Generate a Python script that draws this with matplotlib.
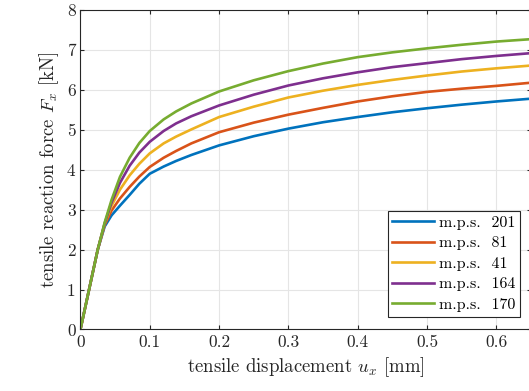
import matplotlib
matplotlib.use("Agg")
import matplotlib.pyplot as plt

plt.rcParams['font.family'] = ['cmr10', 'DejaVu Serif']
plt.rcParams['mathtext.fontset'] = 'cm'
plt.rcParams['axes.formatter.use_mathtext'] = True

u = [0, 0.025, 0.035, 0.045, 0.057, 0.071, 0.085, 0.1, 0.12, 0.138, 0.16, 0.2,
     0.25, 0.3, 0.35, 0.4, 0.45, 0.5, 0.55, 0.6, 0.65]
f_201 = [0, 2.0, 2.58, 2.86, 3.1, 3.37, 3.65, 3.9, 4.08, 4.22, 4.37, 4.61,
         4.84, 5.03, 5.19, 5.32, 5.44, 5.54, 5.63, 5.71, 5.78]
f_81 = [0, 2.0, 2.62, 2.98, 3.28, 3.57, 3.83, 4.07, 4.3, 4.47, 4.66, 4.94,
        5.18, 5.38, 5.55, 5.71, 5.84, 5.95, 6.03, 6.1, 6.18]
f_41 = [0, 2.0, 2.65, 3.1, 3.5, 3.86, 4.15, 4.41, 4.66, 4.83, 5.01, 5.32,
        5.58, 5.81, 5.98, 6.125, 6.25, 6.36, 6.46, 6.54, 6.61]
f_164 = [0, 2.0, 2.66, 3.18, 3.67, 4.1, 4.43, 4.7, 4.97, 5.16, 5.34, 5.61,
         5.88, 6.11, 6.29, 6.44, 6.57, 6.67, 6.77, 6.85, 6.92]
f_170 = [0, 2.0, 2.68, 3.25, 3.82, 4.3, 4.67, 4.97, 5.26, 5.46, 5.66, 5.96,
         6.24, 6.47, 6.66, 6.82, 6.94, 7.04, 7.13, 7.21, 7.27]

labels = ['m.p.s.  201', 'm.p.s.  81', 'm.p.s.  41', 'm.p.s.  164', 'm.p.s.  170']
series = [f_201, f_81, f_41, f_164, f_170]
colors = ['#0072BD', '#D95319', '#EDB120', '#7E2F8E', '#77AC30']

xticks = [0, 0.1, 0.2, 0.3, 0.4, 0.5, 0.6]
yticks = [0, 1, 2, 3, 4, 5, 6, 7, 8]

fig = plt.figure(figsize=(5.29, 3.91), dpi=100)
ax = fig.add_axes([0.152, 0.1573, 0.852, 0.8171])
for s, c, l in zip(series, colors, labels):
    ax.plot(u, s, color=c, lw=1.9, label=l, solid_joinstyle='round')

ax.set_xlim(0, 0.65)
ax.set_ylim(0, 8)
ax.set_xticks(xticks)
ax.set_yticks(yticks)
ax.set_xticklabels(['0', '0.1', '0.2', '0.3', '0.4', '0.5', '0.6'])
ax.set_yticklabels([str(t) for t in yticks])
ax.grid(True, color='#e5e5e5', lw=0.8)
ax.set_axisbelow(True)
ax.tick_params(direction='in', top=True, right=True, labelsize=12.5, colors='#262626', length=3)
for sp in ax.spines.values():
    sp.set_color('#262626')
    sp.set_linewidth(0.8)
ax.set_xlabel('tensile displacement $u_x$ [mm]', fontsize=13.5, color='#262626', labelpad=4)
ax.set_ylabel('tensile reaction force $F_x$ [kN]', fontsize=13.5, color='#262626', labelpad=4)

leg = ax.legend(loc='lower right', bbox_to_anchor=(0.975, 0.04), fontsize=11.5, frameon=True,
                fancybox=False, edgecolor='#262626', framealpha=1, handlelength=2.6,
                borderpad=0.3, labelspacing=0.4, handletextpad=0.3, borderaxespad=0)
leg.get_frame().set_linewidth(0.8)

fig.savefig('out.png', dpi=100)
